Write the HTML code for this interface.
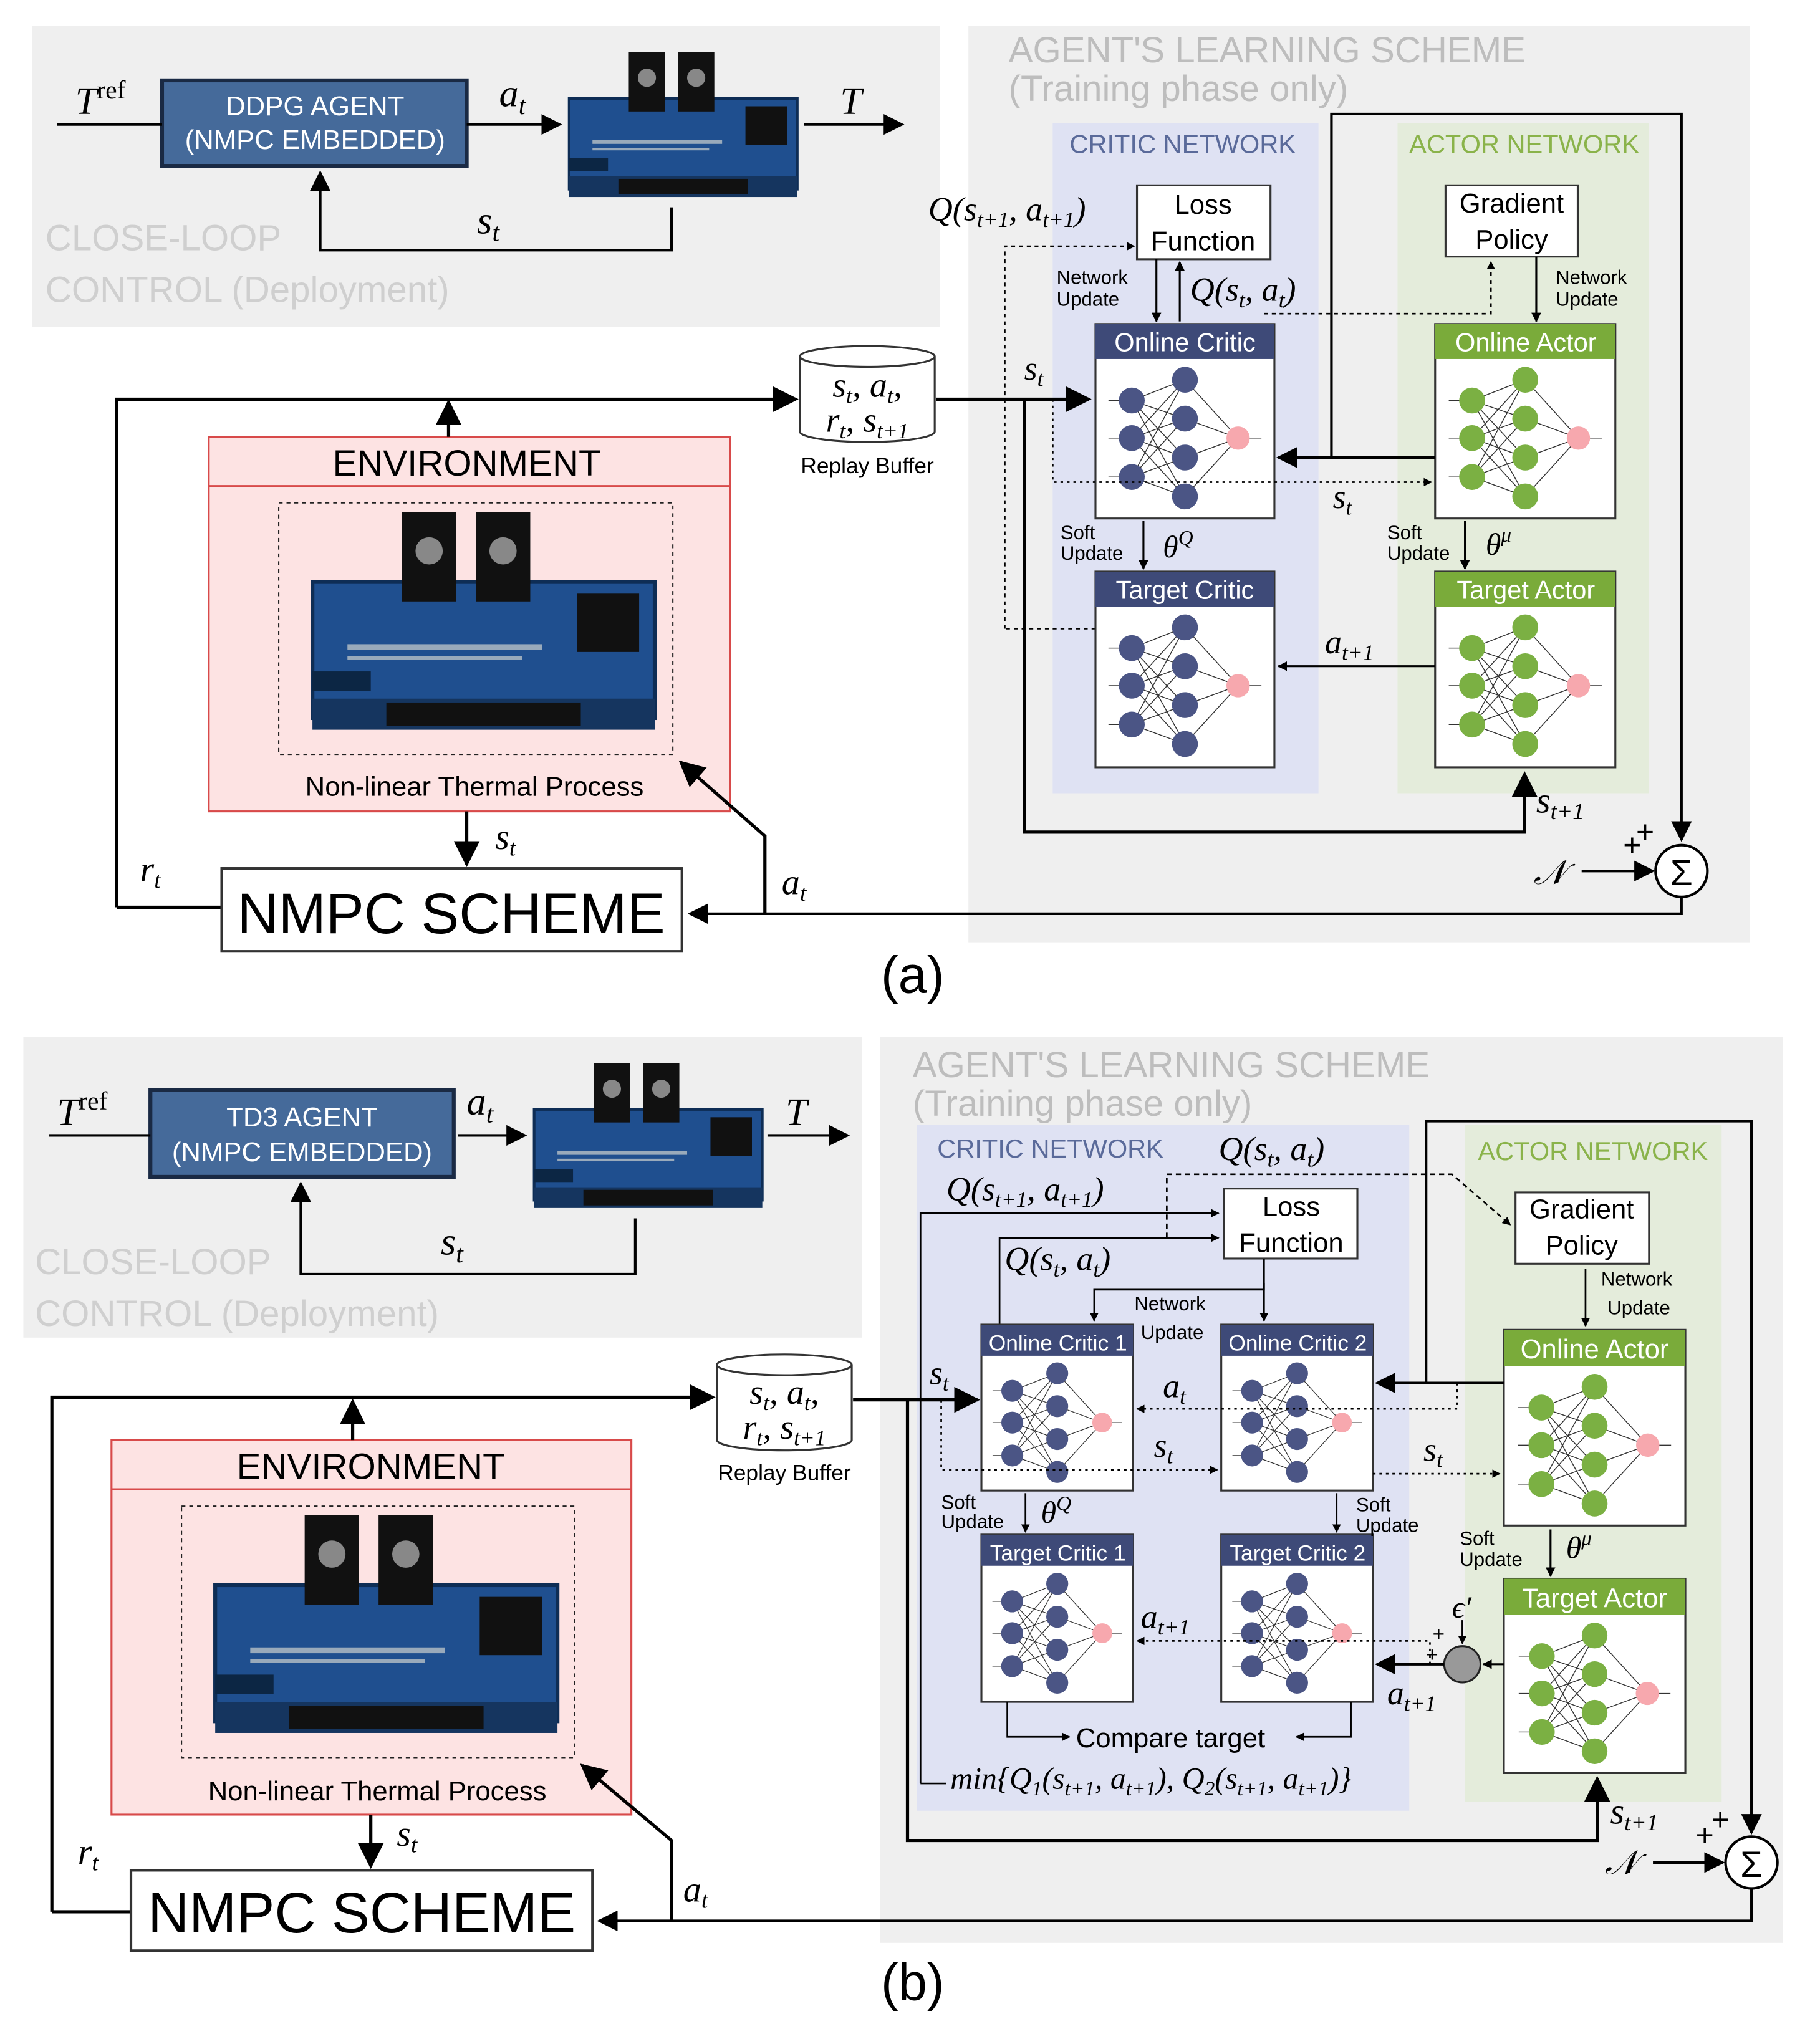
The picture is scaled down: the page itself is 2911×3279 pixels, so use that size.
<!DOCTYPE html>
<html><head><meta charset="utf-8"><style>
html,body{margin:0;padding:0;background:#fff}
svg{display:block}
text{font-family:"Liberation Sans","DejaVu Sans",sans-serif}
.m{font-family:"Liberation Serif","DejaVu Serif",serif;font-style:italic}
</style></head><body>
<svg width="2911" height="3279" viewBox="0 0 1400 1577" xmlns="http://www.w3.org/2000/svg">
<defs>
<marker id="ar" viewBox="0 0 10 10" refX="9" refY="5" markerWidth="5" markerHeight="5" orient="auto-start-reverse"><path d="M0,0L10,5L0,10z" fill="#000"/></marker>
<marker id="as" viewBox="0 0 10 10" refX="9" refY="5" markerWidth="8" markerHeight="8" orient="auto-start-reverse"><path d="M0,0L10,5L0,10z" fill="#000"/></marker>
<symbol id="board" viewBox="0 0 180 120">
<rect x="2" y="38" width="176" height="70" fill="#1f4f8f" stroke="#0e2d55" stroke-width="2"/>
<rect x="2" y="98" width="176" height="16" fill="#15355f"/>
<rect x="40" y="100" width="100" height="12" fill="#111"/>
<rect x="48" y="2" width="28" height="46" fill="#111"/><circle cx="62" cy="22" r="7" fill="#888"/>
<rect x="86" y="2" width="28" height="46" fill="#111"/><circle cx="100" cy="22" r="7" fill="#888"/>
<rect x="138" y="44" width="32" height="30" fill="#111"/>
<rect x="20" y="70" width="100" height="3" fill="#9ab"/><rect x="20" y="76" width="90" height="2" fill="#9ab"/>
<rect x="2" y="84" width="30" height="10" fill="#0c2644"/>
</symbol>
<symbol id="cnet" viewBox="0 0 138 123">
<g stroke="#333" stroke-width="0.7">
<line x1="10" y1="32" x2="28" y2="32"/><line x1="10" y1="61" x2="28" y2="61"/><line x1="10" y1="91" x2="28" y2="91"/>
<line x1="28" y1="32" x2="69" y2="16"/><line x1="28" y1="32" x2="69" y2="46"/><line x1="28" y1="32" x2="69" y2="76"/><line x1="28" y1="32" x2="69" y2="106"/>
<line x1="28" y1="61" x2="69" y2="16"/><line x1="28" y1="61" x2="69" y2="46"/><line x1="28" y1="61" x2="69" y2="76"/><line x1="28" y1="61" x2="69" y2="106"/>
<line x1="28" y1="91" x2="69" y2="16"/><line x1="28" y1="91" x2="69" y2="46"/><line x1="28" y1="91" x2="69" y2="76"/><line x1="28" y1="91" x2="69" y2="106"/>
<line x1="69" y1="16" x2="110" y2="61"/><line x1="69" y1="46" x2="110" y2="61"/><line x1="69" y1="76" x2="110" y2="61"/><line x1="69" y1="106" x2="110" y2="61"/><line x1="110" y1="61" x2="128" y2="61"/></g>
<g fill="#4b5585"><circle cx="28" cy="32" r="10"/><circle cx="28" cy="61" r="10"/><circle cx="28" cy="91" r="10"/>
<circle cx="69" cy="16" r="10"/><circle cx="69" cy="46" r="10"/><circle cx="69" cy="76" r="10"/><circle cx="69" cy="106" r="10"/></g>
<circle cx="110" cy="61" r="9" fill="#f7a8ae"/>
</symbol>
<symbol id="anet" viewBox="0 0 138 123">
<g stroke="#333" stroke-width="0.7">
<line x1="10" y1="32" x2="28" y2="32"/><line x1="10" y1="61" x2="28" y2="61"/><line x1="10" y1="91" x2="28" y2="91"/>
<line x1="28" y1="32" x2="69" y2="16"/><line x1="28" y1="32" x2="69" y2="46"/><line x1="28" y1="32" x2="69" y2="76"/><line x1="28" y1="32" x2="69" y2="106"/>
<line x1="28" y1="61" x2="69" y2="16"/><line x1="28" y1="61" x2="69" y2="46"/><line x1="28" y1="61" x2="69" y2="76"/><line x1="28" y1="61" x2="69" y2="106"/>
<line x1="28" y1="91" x2="69" y2="16"/><line x1="28" y1="91" x2="69" y2="46"/><line x1="28" y1="91" x2="69" y2="76"/><line x1="28" y1="91" x2="69" y2="106"/>
<line x1="69" y1="16" x2="110" y2="61"/><line x1="69" y1="46" x2="110" y2="61"/><line x1="69" y1="76" x2="110" y2="61"/><line x1="69" y1="106" x2="110" y2="61"/><line x1="110" y1="61" x2="128" y2="61"/></g>
<g fill="#7bb043"><circle cx="28" cy="32" r="10"/><circle cx="28" cy="61" r="10"/><circle cx="28" cy="91" r="10"/>
<circle cx="69" cy="16" r="10"/><circle cx="69" cy="46" r="10"/><circle cx="69" cy="76" r="10"/><circle cx="69" cy="106" r="10"/></g>
<circle cx="110" cy="61" r="9" fill="#f7a8ae"/>
</symbol>
</defs>

<!-- ================= (a) ================= -->
<rect x="25" y="20" width="700" height="232" fill="#efefef"/>
<rect x="747" y="20" width="603" height="707" fill="#efefef"/>
<rect x="812" y="95" width="205" height="517" fill="#dfe2f3"/>
<rect x="1078" y="95" width="194" height="517" fill="#e4ecdb"/>
<text x="35" y="193" font-size="28" fill="#cfcfcf">CLOSE-LOOP</text>
<text x="35" y="233" font-size="28" fill="#cfcfcf">CONTROL (Deployment)</text>
<text x="778" y="48" font-size="28" fill="#bdbdbd">AGENT'S LEARNING SCHEME</text>
<text x="778" y="78" font-size="28" fill="#bdbdbd">(Training phase only)</text>
<text x="825" y="118" font-size="20" fill="#5a6a9a">CRITIC NETWORK</text>
<text x="1087" y="118" font-size="20" fill="#8ab34a">ACTOR NETWORK</text>

<rect x="125" y="62" width="235" height="66" fill="#456a9a" stroke="#1a2a44" stroke-width="3"/>
<text x="243" y="89" font-size="21" fill="#fff" text-anchor="middle">DDPG AGENT</text>
<text x="243" y="115" font-size="21" fill="#fff" text-anchor="middle">(NMPC EMBEDDED)</text>
<use href="#board" x="437" y="38" width="180" height="120"/>
<line x1="44" y1="96" x2="125" y2="96" stroke="#000" stroke-width="2"/>
<text x="58" y="88" class="m" font-size="30">T<tspan font-size="20" font-style="normal" dy="-12">ref</tspan></text>
<line x1="360" y1="96" x2="432" y2="96" stroke="#000" stroke-width="2" marker-end="url(#as)"/>
<text x="385" y="82" class="m" font-size="30">a<tspan font-size="20" dy="6">t</tspan></text>
<line x1="620" y1="96" x2="696" y2="96" stroke="#000" stroke-width="2" marker-end="url(#as)"/>
<text x="648" y="88" class="m" font-size="30">T</text>
<polyline points="518,160 518,193 247,193 247,133" fill="none" stroke="#000" stroke-width="2" marker-end="url(#as)"/>
<text x="368" y="180" class="m" font-size="30">s<tspan font-size="20" dy="6">t</tspan></text>

<!-- loss / gradient -->
<rect x="877" y="143" width="103" height="57" fill="#fff" stroke="#333" stroke-width="1.5"/>
<text x="928" y="165" font-size="21" text-anchor="middle">Loss</text>
<text x="928" y="193" font-size="21" text-anchor="middle">Function</text>
<rect x="1115" y="143" width="102" height="55" fill="#fff" stroke="#333" stroke-width="1.5"/>
<text x="1166" y="164" font-size="21" text-anchor="middle">Gradient</text>
<text x="1166" y="192" font-size="21" text-anchor="middle">Policy</text>
<text x="716" y="170" class="m" font-size="26">Q(s<tspan font-size="17" dy="5">t+1</tspan><tspan dy="-5">, a</tspan><tspan font-size="17" dy="5">t+1</tspan><tspan dy="-5">)</tspan></text>
<polyline points="775,485 775,190 875,190" fill="none" stroke="#000" stroke-width="1.3" stroke-dasharray="3,3" marker-end="url(#ar)"/>
<polyline points="845,485 775,485" fill="none" stroke="#000" stroke-width="1.3" stroke-dasharray="3,3"/>
<line x1="892" y1="200" x2="892" y2="248" stroke="#000" stroke-width="1.5" marker-end="url(#ar)"/>
<line x1="910" y1="248" x2="910" y2="202" stroke="#000" stroke-width="1.5" marker-end="url(#ar)"/>
<text x="815" y="219" font-size="15">Network</text>
<text x="815" y="236" font-size="15">Update</text>
<text x="918" y="232" class="m" font-size="26">Q(s<tspan font-size="17" dy="5">t</tspan><tspan dy="-5">, a</tspan><tspan font-size="17" dy="5">t</tspan><tspan dy="-5">)</tspan></text>
<polyline points="975,242 1150,242 1150,202" fill="none" stroke="#000" stroke-width="1.3" stroke-dasharray="3,3" marker-end="url(#ar)"/>
<line x1="1185" y1="198" x2="1185" y2="248" stroke="#000" stroke-width="1.5" marker-end="url(#ar)"/>
<text x="1200" y="219" font-size="15">Network</text>
<text x="1200" y="236" font-size="15">Update</text>

<!-- net boxes (a) -->
<rect x="845" y="250" width="138" height="150" fill="#fff" stroke="#333" stroke-width="1.5"/>
<rect x="845" y="250" width="138" height="27" fill="#3e4a78"/>
<text x="914" y="271" font-size="20" fill="#fff" text-anchor="middle">Online Critic</text>
<use href="#cnet" x="845" y="277" width="138" height="123"/>
<rect x="1107" y="250" width="139" height="150" fill="#fff" stroke="#333" stroke-width="1.5"/>
<rect x="1107" y="250" width="139" height="27" fill="#7aab3a"/>
<text x="1177" y="271" font-size="20" fill="#fff" text-anchor="middle">Online Actor</text>
<use href="#anet" x="1107" y="277" width="139" height="123"/>
<rect x="845" y="441" width="138" height="151" fill="#fff" stroke="#333" stroke-width="1.5"/>
<rect x="845" y="441" width="138" height="27" fill="#3e4a78"/>
<text x="914" y="462" font-size="20" fill="#fff" text-anchor="middle">Target Critic</text>
<use href="#cnet" x="845" y="468" width="138" height="123"/>
<rect x="1107" y="441" width="139" height="151" fill="#fff" stroke="#333" stroke-width="1.5"/>
<rect x="1107" y="441" width="139" height="27" fill="#7aab3a"/>
<text x="1177" y="462" font-size="20" fill="#fff" text-anchor="middle">Target Actor</text>
<use href="#anet" x="1107" y="468" width="139" height="123"/>

<line x1="882" y1="402" x2="882" y2="439" stroke="#000" stroke-width="1.5" marker-end="url(#ar)"/>
<text x="818" y="416" font-size="15">Soft</text><text x="818" y="432" font-size="15">Update</text>
<text x="897" y="430" class="m" font-size="24">θ<tspan font-size="16" dy="-10">Q</tspan></text>
<line x1="1130" y1="402" x2="1130" y2="439" stroke="#000" stroke-width="1.5" marker-end="url(#ar)"/>
<text x="1070" y="416" font-size="15">Soft</text><text x="1070" y="432" font-size="15">Update</text>
<text x="1146" y="428" class="m" font-size="24">θ<tspan font-size="16" dy="-10">μ</tspan></text>
<!-- online actor to critic -->
<line x1="1107" y1="353" x2="986" y2="353" stroke="#000" stroke-width="2" marker-end="url(#as)"/>
<polyline points="1027,353 1027,88 1297,88 1297,648" fill="none" stroke="#000" stroke-width="2" marker-end="url(#as)"/>
<polyline points="812,308 812,372 1104,372" fill="none" stroke="#000" stroke-width="1.3" stroke-dasharray="2,3" marker-end="url(#ar)"/>
<text x="1028" y="392" class="m" font-size="26">s<tspan font-size="17" dy="5">t</tspan></text>
<line x1="1107" y1="514" x2="986" y2="514" stroke="#000" stroke-width="1.5" marker-end="url(#ar)"/>
<text x="1022" y="504" class="m" font-size="26">a<tspan font-size="17" dy="5">t+1</tspan></text>

<!-- replay buffer (a) -->
<path d="M617,275 L617,333 A52,8 0 0 0 721,333 L721,275" fill="#fff" stroke="#333" stroke-width="1.5"/>
<ellipse cx="669" cy="275" rx="52" ry="8" fill="#fff" stroke="#333" stroke-width="1.5"/>
<text x="669" y="306" class="m" font-size="27" text-anchor="middle">s<tspan font-size="17" dy="5">t</tspan><tspan dy="-5">, a</tspan><tspan font-size="17" dy="5">t</tspan><tspan dy="-5">,</tspan></text>
<text x="669" y="333" class="m" font-size="27" text-anchor="middle">r<tspan font-size="17" dy="5">t</tspan><tspan dy="-5">, s</tspan><tspan font-size="17" dy="5">t+1</tspan></text>
<text x="669" y="365" font-size="17" text-anchor="middle">Replay Buffer</text>
<line x1="722" y1="308" x2="840" y2="308" stroke="#000" stroke-width="2.5" marker-end="url(#as)"/>
<text x="790" y="293" class="m" font-size="26">s<tspan font-size="17" dy="5">t</tspan></text>
<polyline points="790,308 790,642 1176,642 1176,597" fill="none" stroke="#000" stroke-width="2.5" marker-end="url(#as)"/>
<text x="1185" y="627" class="m" font-size="28">s<tspan font-size="18" dy="5">t+1</tspan></text>
<circle cx="1297" cy="672" r="20" fill="#fff" stroke="#000" stroke-width="2"/>
<text x="1297" y="683" font-size="28" text-anchor="middle">Σ</text>
<text x="1262" y="650" font-size="24">+</text><text x="1252" y="660" font-size="24">+</text>
<text x="1183" y="682" class="m" font-size="26">𝒩</text>
<line x1="1220" y1="672" x2="1275" y2="672" stroke="#000" stroke-width="2" marker-end="url(#as)"/>
<polyline points="1297,692 1297,705 532,705" fill="none" stroke="#000" stroke-width="2" marker-end="url(#as)"/>

<!-- environment (a) -->
<rect x="161" y="337" width="402" height="289" fill="#fde3e3" stroke="#d84a4a" stroke-width="1.5"/>
<line x1="161" y1="375" x2="563" y2="375" stroke="#d84a4a" stroke-width="1.5"/>
<text x="360" y="367" font-size="28" text-anchor="middle">ENVIRONMENT</text>
<rect x="215" y="388" width="304" height="194" fill="none" stroke="#222" stroke-width="1" stroke-dasharray="3,3"/>
<use href="#board" x="228" y="392" width="290" height="180"/>
<text x="366" y="614" font-size="21" text-anchor="middle">Non-linear Thermal Process</text>
<polyline points="90,700 90,308 614,308" fill="none" stroke="#000" stroke-width="2.5" marker-end="url(#as)"/>
<line x1="346" y1="308" x2="346" y2="312" stroke="#000"/>
<line x1="346" y1="337" x2="346" y2="310" stroke="#000" stroke-width="2.5" marker-end="url(#as)"/>
<line x1="90" y1="700" x2="171" y2="700" stroke="#000" stroke-width="2.5"/>
<text x="108" y="680" class="m" font-size="28">r<tspan font-size="18" dy="5">t</tspan></text>
<line x1="360" y1="626" x2="360" y2="667" stroke="#000" stroke-width="2.5" marker-end="url(#as)"/>
<text x="382" y="655" class="m" font-size="28">s<tspan font-size="18" dy="5">t</tspan></text>
<polyline points="590,705 590,645 525,588" fill="none" stroke="#000" stroke-width="2.5" marker-end="url(#as)"/>
<text x="603" y="690" class="m" font-size="28">a<tspan font-size="18" dy="5">t</tspan></text>
<rect x="171" y="670" width="355" height="64" fill="#fff" stroke="#333" stroke-width="2"/>
<text x="348" y="720" font-size="44" text-anchor="middle">NMPC SCHEME</text>
<text x="704" y="766" font-size="40" text-anchor="middle">(a)</text>

<!-- ================= (b) ================= -->
<rect x="18" y="800" width="647" height="232" fill="#efefef"/>
<rect x="679" y="800" width="696" height="699" fill="#efefef"/>
<rect x="707" y="868" width="380" height="529" fill="#dfe2f3"/>
<rect x="1130" y="868" width="198" height="522" fill="#e4ecdb"/>
<text x="27" y="983" font-size="28" fill="#cfcfcf">CLOSE-LOOP</text>
<text x="27" y="1023" font-size="28" fill="#cfcfcf">CONTROL (Deployment)</text>
<text x="704" y="831" font-size="28" fill="#bdbdbd">AGENT'S LEARNING SCHEME</text>
<text x="704" y="861" font-size="28" fill="#bdbdbd">(Training phase only)</text>
<text x="723" y="893" font-size="20" fill="#5a6a9a">CRITIC NETWORK</text>
<text x="1140" y="895" font-size="20" fill="#8ab34a">ACTOR NETWORK</text>

<rect x="116" y="841" width="234" height="67" fill="#456a9a" stroke="#1a2a44" stroke-width="3"/>
<text x="233" y="869" font-size="21" fill="#fff" text-anchor="middle">TD3 AGENT</text>
<text x="233" y="896" font-size="21" fill="#fff" text-anchor="middle">(NMPC EMBEDDED)</text>
<use href="#board" x="410" y="818" width="180" height="120"/>
<line x1="38" y1="876" x2="116" y2="876" stroke="#000" stroke-width="2"/>
<text x="44" y="868" class="m" font-size="30">T<tspan font-size="20" font-style="normal" dy="-12">ref</tspan></text>
<line x1="353" y1="876" x2="405" y2="876" stroke="#000" stroke-width="2" marker-end="url(#as)"/>
<text x="360" y="860" class="m" font-size="30">a<tspan font-size="20" dy="6">t</tspan></text>
<line x1="592" y1="876" x2="654" y2="876" stroke="#000" stroke-width="2" marker-end="url(#as)"/>
<text x="606" y="868" class="m" font-size="30">T</text>
<polyline points="490,940 490,983 232,983 232,913" fill="none" stroke="#000" stroke-width="2" marker-end="url(#as)"/>
<text x="340" y="968" class="m" font-size="30">s<tspan font-size="20" dy="6">t</tspan></text>

<!-- loss / gradient (b) -->
<rect x="944" y="917" width="103" height="54" fill="#fff" stroke="#333" stroke-width="1.5"/>
<text x="996" y="938" font-size="21" text-anchor="middle">Loss</text>
<text x="996" y="966" font-size="21" text-anchor="middle">Function</text>
<rect x="1169" y="920" width="103" height="55" fill="#fff" stroke="#333" stroke-width="1.5"/>
<text x="1220" y="940" font-size="21" text-anchor="middle">Gradient</text>
<text x="1220" y="968" font-size="21" text-anchor="middle">Policy</text>
<text x="940" y="895" class="m" font-size="26">Q(s<tspan font-size="17" dy="5">t</tspan><tspan dy="-5">, a</tspan><tspan font-size="17" dy="5">t</tspan><tspan dy="-5">)</tspan></text>
<text x="730" y="926" class="m" font-size="26">Q(s<tspan font-size="17" dy="5">t+1</tspan><tspan dy="-5">, a</tspan><tspan font-size="17" dy="5">t+1</tspan><tspan dy="-5">)</tspan></text>
<polyline points="710,1376 710,936 940,936" fill="none" stroke="#000" stroke-width="1.3" marker-end="url(#ar)"/>
<line x1="710" y1="1376" x2="730" y2="1376" stroke="#000" stroke-width="1.3"/>
<polyline points="771,1022 771,955 940,955" fill="none" stroke="#000" stroke-width="1.3" marker-end="url(#ar)"/>
<polyline points="900,955 900,906 1120,906 1165,945" fill="none" stroke="#000" stroke-width="1.3" stroke-dasharray="4,3" marker-end="url(#ar)"/>
<text x="775" y="980" class="m" font-size="26">Q(s<tspan font-size="17" dy="5">t</tspan><tspan dy="-5">, a</tspan><tspan font-size="17" dy="5">t</tspan><tspan dy="-5">)</tspan></text>
<polyline points="975,971 975,995 844,995 844,1019" fill="none" stroke="#000" stroke-width="1.3" marker-end="url(#ar)"/>
<line x1="975" y1="990" x2="975" y2="1019" stroke="#000" stroke-width="1.3" marker-end="url(#ar)"/>
<text x="875" y="1011" font-size="15">Network</text>
<text x="880" y="1033" font-size="15">Update</text>
<line x1="1223" y1="979" x2="1223" y2="1023" stroke="#000" stroke-width="1.3" marker-end="url(#ar)"/>
<text x="1235" y="992" font-size="15">Network</text>
<text x="1240" y="1014" font-size="15">Update</text>

<!-- net boxes (b) -->
<rect x="757" y="1022" width="117" height="128" fill="#fff" stroke="#333" stroke-width="1.5"/>
<rect x="757" y="1022" width="117" height="24" fill="#3e4a78"/>
<text x="816" y="1042" font-size="17" fill="#fff" text-anchor="middle">Online Critic 1</text>
<use href="#cnet" x="757" y="1046" width="117" height="104" preserveAspectRatio="none"/>
<rect x="942" y="1022" width="117" height="128" fill="#fff" stroke="#333" stroke-width="1.5"/>
<rect x="942" y="1022" width="117" height="24" fill="#3e4a78"/>
<text x="1001" y="1042" font-size="17" fill="#fff" text-anchor="middle">Online Critic 2</text>
<use href="#cnet" x="942" y="1046" width="117" height="104" preserveAspectRatio="none"/>
<rect x="757" y="1184" width="117" height="129" fill="#fff" stroke="#333" stroke-width="1.5"/>
<rect x="757" y="1184" width="117" height="24" fill="#3e4a78"/>
<text x="816" y="1204" font-size="17" fill="#fff" text-anchor="middle">Target Critic 1</text>
<use href="#cnet" x="757" y="1208" width="117" height="105" preserveAspectRatio="none"/>
<rect x="942" y="1184" width="117" height="129" fill="#fff" stroke="#333" stroke-width="1.5"/>
<rect x="942" y="1184" width="117" height="24" fill="#3e4a78"/>
<text x="1001" y="1204" font-size="17" fill="#fff" text-anchor="middle">Target Critic 2</text>
<use href="#cnet" x="942" y="1208" width="117" height="105" preserveAspectRatio="none"/>
<rect x="1160" y="1026" width="140" height="151" fill="#fff" stroke="#333" stroke-width="1.5"/>
<rect x="1160" y="1026" width="140" height="28" fill="#7aab3a"/>
<text x="1230" y="1048" font-size="21" fill="#fff" text-anchor="middle">Online Actor</text>
<use href="#anet" x="1160" y="1054" width="140" height="123"/>
<rect x="1160" y="1218" width="140" height="150" fill="#fff" stroke="#333" stroke-width="1.5"/>
<rect x="1160" y="1218" width="140" height="28" fill="#7aab3a"/>
<text x="1230" y="1240" font-size="21" fill="#fff" text-anchor="middle">Target Actor</text>
<use href="#anet" x="1160" y="1246" width="140" height="122"/>

<!-- (b) connections -->
<line x1="1160" y1="1067" x2="1062" y2="1067" stroke="#000" stroke-width="2" marker-end="url(#as)"/>
<polyline points="1100,1067 1100,865 1351,865 1351,1414" fill="none" stroke="#000" stroke-width="2" marker-end="url(#as)"/>
<polyline points="1124,1067 1124,1087 877,1087" fill="none" stroke="#000" stroke-width="1.3" stroke-dasharray="2,3" marker-end="url(#ar)"/>
<text x="897" y="1078" class="m" font-size="26">a<tspan font-size="17" dy="5">t</tspan></text>
<polyline points="726,1080 726,1134 939,1134" fill="none" stroke="#000" stroke-width="1.3" stroke-dasharray="2,3" marker-end="url(#ar)"/>
<line x1="1059" y1="1137" x2="1157" y2="1137" stroke="#000" stroke-width="1.3" stroke-dasharray="2,3" marker-end="url(#ar)"/>
<text x="890" y="1124" class="m" font-size="26">s<tspan font-size="17" dy="5">t</tspan></text>
<text x="1098" y="1127" class="m" font-size="26">s<tspan font-size="17" dy="5">t</tspan></text>
<line x1="791" y1="1152" x2="791" y2="1182" stroke="#000" stroke-width="1.3" marker-end="url(#ar)"/>
<text x="726" y="1164" font-size="15">Soft</text><text x="726" y="1179" font-size="15">Update</text>
<text x="803" y="1175" class="m" font-size="24">θ<tspan font-size="16" dy="-10">Q</tspan></text>
<line x1="1031" y1="1152" x2="1031" y2="1182" stroke="#000" stroke-width="1.3" marker-end="url(#ar)"/>
<text x="1046" y="1166" font-size="15">Soft</text><text x="1046" y="1182" font-size="15">Update</text>
<line x1="1196" y1="1180" x2="1196" y2="1216" stroke="#000" stroke-width="1.5" marker-end="url(#ar)"/>
<text x="1126" y="1192" font-size="15">Soft</text><text x="1126" y="1208" font-size="15">Update</text>
<text x="1208" y="1202" class="m" font-size="24">θ<tspan font-size="16" dy="-10">μ</tspan></text>
<circle cx="1128" cy="1284" r="14" fill="#999" stroke="#222" stroke-width="1.5"/>
<line x1="1160" y1="1284" x2="1144" y2="1284" stroke="#000" stroke-width="1.5" marker-end="url(#ar)"/>
<line x1="1114" y1="1284" x2="1062" y2="1284" stroke="#000" stroke-width="2" marker-end="url(#as)"/>
<line x1="1128" y1="1250" x2="1128" y2="1268" stroke="#000" stroke-width="1.3" marker-end="url(#ar)"/>
<text x="1120" y="1248" class="m" font-size="24">ϵ′</text>
<text x="1105" y="1266" font-size="16">+</text><text x="1100" y="1282" font-size="16">+</text>
<polyline points="1103,1284 1103,1266 877,1266" fill="none" stroke="#000" stroke-width="1.3" stroke-dasharray="2,3" marker-end="url(#ar)"/>
<text x="880" y="1256" class="m" font-size="26">a<tspan font-size="17" dy="5">t+1</tspan></text>
<text x="1070" y="1315" class="m" font-size="26">a<tspan font-size="17" dy="5">t+1</tspan></text>
<polyline points="777,1313 777,1340 825,1340" fill="none" stroke="#000" stroke-width="1.3" marker-end="url(#ar)"/>
<polyline points="1042,1313 1042,1340 1000,1340" fill="none" stroke="#000" stroke-width="1.3" marker-end="url(#ar)"/>
<text x="830" y="1348" font-size="21">Compare target</text>
<text x="733" y="1380" class="m" font-size="24">min{Q<tspan font-size="16" dy="5">1</tspan><tspan dy="-5">(s</tspan><tspan font-size="16" dy="5">t+1</tspan><tspan dy="-5">, a</tspan><tspan font-size="16" dy="5">t+1</tspan><tspan dy="-5">), Q</tspan><tspan font-size="16" dy="5">2</tspan><tspan dy="-5">(s</tspan><tspan font-size="16" dy="5">t+1</tspan><tspan dy="-5">, a</tspan><tspan font-size="16" dy="5">t+1</tspan><tspan dy="-5">)}</tspan></text>

<!-- replay buffer (b) -->
<path d="M553,1053 L553,1111 A52,8 0 0 0 657,1111 L657,1053" fill="#fff" stroke="#333" stroke-width="1.5"/>
<ellipse cx="605" cy="1053" rx="52" ry="8" fill="#fff" stroke="#333" stroke-width="1.5"/>
<text x="605" y="1083" class="m" font-size="27" text-anchor="middle">s<tspan font-size="17" dy="5">t</tspan><tspan dy="-5">, a</tspan><tspan font-size="17" dy="5">t</tspan><tspan dy="-5">,</tspan></text>
<text x="605" y="1110" class="m" font-size="27" text-anchor="middle">r<tspan font-size="17" dy="5">t</tspan><tspan dy="-5">, s</tspan><tspan font-size="17" dy="5">t+1</tspan></text>
<text x="605" y="1142" font-size="17" text-anchor="middle">Replay Buffer</text>
<line x1="658" y1="1080" x2="754" y2="1080" stroke="#000" stroke-width="2.5" marker-end="url(#as)"/>
<text x="717" y="1068" class="m" font-size="26">s<tspan font-size="17" dy="5">t</tspan></text>
<polyline points="700,1080 700,1420 1232,1420 1232,1372" fill="none" stroke="#000" stroke-width="2.5" marker-end="url(#as)"/>
<text x="1242" y="1407" class="m" font-size="28">s<tspan font-size="18" dy="5">t+1</tspan></text>
<circle cx="1351" cy="1437" r="20" fill="#fff" stroke="#000" stroke-width="2"/>
<text x="1351" y="1448" font-size="28" text-anchor="middle">Σ</text>
<text x="1320" y="1412" font-size="24">+</text><text x="1308" y="1424" font-size="24">+</text>
<text x="1238" y="1446" class="m" font-size="26">𝒩</text>
<line x1="1275" y1="1437" x2="1329" y2="1437" stroke="#000" stroke-width="2" marker-end="url(#as)"/>
<polyline points="1351,1457 1351,1482 462,1482" fill="none" stroke="#000" stroke-width="2" marker-end="url(#as)"/>

<!-- environment (b) -->
<rect x="86" y="1111" width="401" height="289" fill="#fde3e3" stroke="#d84a4a" stroke-width="1.5"/>
<line x1="86" y1="1149" x2="487" y2="1149" stroke="#d84a4a" stroke-width="1.5"/>
<text x="286" y="1141" font-size="28" text-anchor="middle">ENVIRONMENT</text>
<rect x="140" y="1162" width="303" height="194" fill="none" stroke="#222" stroke-width="1" stroke-dasharray="3,3"/>
<use href="#board" x="153" y="1166" width="290" height="180"/>
<text x="291" y="1389" font-size="21" text-anchor="middle">Non-linear Thermal Process</text>
<polyline points="40,1475 40,1078 550,1078" fill="none" stroke="#000" stroke-width="2.5" marker-end="url(#as)"/>
<line x1="272" y1="1111" x2="272" y2="1081" stroke="#000" stroke-width="2.5" marker-end="url(#as)"/>
<line x1="40" y1="1475" x2="101" y2="1475" stroke="#000" stroke-width="2.5"/>
<text x="60" y="1438" class="m" font-size="28">r<tspan font-size="18" dy="5">t</tspan></text>
<line x1="286" y1="1400" x2="286" y2="1440" stroke="#000" stroke-width="2.5" marker-end="url(#as)"/>
<text x="306" y="1424" class="m" font-size="28">s<tspan font-size="18" dy="5">t</tspan></text>
<polyline points="518,1482 518,1420 449,1362" fill="none" stroke="#000" stroke-width="2.5" marker-end="url(#as)"/>
<text x="527" y="1467" class="m" font-size="28">a<tspan font-size="18" dy="5">t</tspan></text>
<rect x="101" y="1443" width="356" height="62" fill="#fff" stroke="#333" stroke-width="2"/>
<text x="279" y="1491" font-size="44" text-anchor="middle">NMPC SCHEME</text>
<text x="704" y="1543" font-size="40" text-anchor="middle">(b)</text>
</svg>
</body></html>
